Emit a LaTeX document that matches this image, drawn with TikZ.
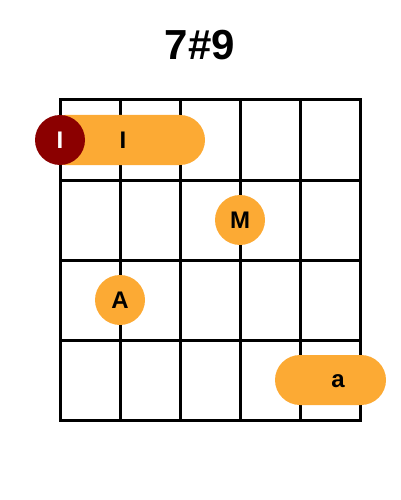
\documentclass[tikz,border=0pt]{standalone}
\usepackage{fontspec}
\setmainfont{Liberation Sans}
\usepackage{tikz}
\usetikzlibrary{positioning}
\definecolor{fingerorange}{HTML}{FCAA34}
\definecolor{rootred}{HTML}{8B0000}

\begin{document}
\begin{tikzpicture}[x=1pt, y=-1pt,
	fret/.style={line width=3pt, line cap=rect},
	dot/.style={circle, fill=fingerorange, minimum size=50pt, inner sep=0pt, font=\fontsize{24}{24}\selectfont\bfseries},
	barre/.style={rectangle, rounded corners=25pt, fill=fingerorange, minimum height=50pt, inner sep=0pt},
	root/.style={circle, fill=rootred, text=white, minimum size=50pt, inner sep=0pt, font=\fontsize{24}{24}\selectfont\bfseries},
	lbl/.style={font=\fontsize{24}{24}\selectfont\bfseries, inner sep=0pt}]
	\useasboundingbox (0,0) rectangle (400,500);
	
	\node[font=\fontsize{42}{42}\selectfont\bfseries](TITLE) at (200,45){7\#9};
	
	% strings and frets
	\foreach \x in {60,120,...,360}
		\draw[fret] (\x,100) -- (\x,420);
	\foreach \y in {100,180,...,420}
		\draw[fret] (60,\y) -- (360,\y);
	
	\node[barre, minimum width=165pt](B1) at (122.5,140){};
	\node[lbl](B1L) at (123,140){I};
	\node[root](R1) at (60,140){I};
	
	\node[dot](M) at (240,220){M};
	\node[dot](A) at (120,300){A};
	
	\node[barre, minimum width=111pt](B2) at (330.5,380){};
	\node[lbl](B2L) at (338,381){a};
	
\end{tikzpicture}
\end{document}
